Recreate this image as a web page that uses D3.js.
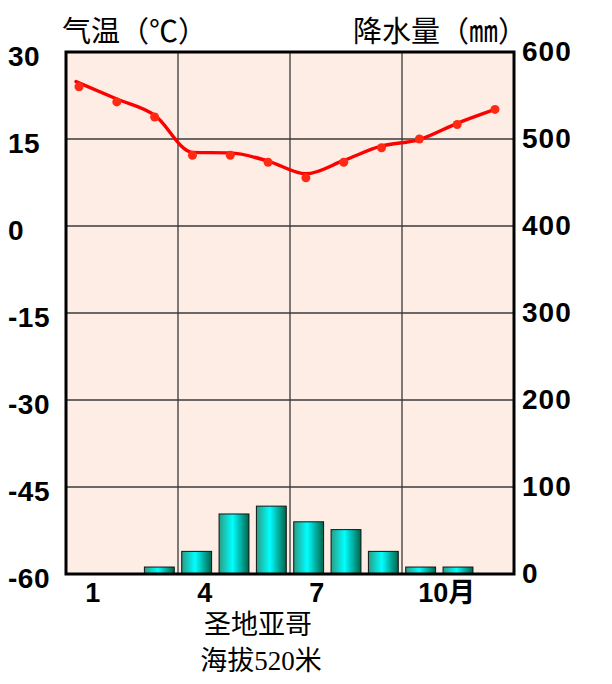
<!DOCTYPE html>
<html>
<head>
<meta charset="utf-8">
<script src="https://cdn.jsdelivr.net/npm/d3@7"></script>
<style>
  html, body { margin: 0; padding: 0; background: #ffffff; }
  svg { display: block; }
</style>
</head>
<body>
<svg id="chart" width="612" height="684"></svg>
<script>
// ---- data ----
const months = [1, 2, 3, 4, 5, 6, 7, 8, 9, 10, 11, 12];
const precip = [0, 0, 8, 26, 69, 78, 60, 51, 26, 8, 8, 0];          // mm
const tempPoints = [24.0, 21.4, 18.8, 12.2, 12.2, 11.0, 8.3, 11.0, 13.5, 15.0, 17.5, 20.1]; // °C dots
const tempCurve = [24.9, 21.9, 19.1, 12.7, 12.6, 11.2, 9.0, 11.3, 13.8, 14.9, 17.7, 20.1];  // drawn smooth line
const tempTicks = [30, 15, 0, -15, -30, -45, -60];
const precipTicks = [600, 500, 400, 300, 200, 100, 0];
const monthLabels = [[1, "1"], [4, "4"], [7, "7"], [10, "10月"]];
const titleLeft = "气温（℃）";
const titleRight = "降水量（㎜）";
const station = "圣地亚哥";
const altitude = "海拔520米";

// ---- layout ----
const x0 = 66, x1 = 514, y0 = 52, y1 = 574;
const svg = d3.select("#chart");

const x = d3.scaleBand().domain(months).range([x0, x1]).paddingInner(0.2).paddingOuter(0.1);
const xPt = d3.scalePoint().domain(months).range([x0 + 13, x1 - 19]);
const yT = d3.scaleLinear().domain([-60, 30]).range([y1, y0]);
const yP = d3.scaleLinear().domain([0, 600]).range([y1, y0]);

// gradient for bars
const defs = svg.append("defs");
const grad = defs.append("linearGradient").attr("id", "barGrad")
  .attr("x1", "0").attr("x2", "1").attr("y1", "0").attr("y2", "0");
grad.append("stop").attr("offset", "0").attr("stop-color", "#2a9c84");
grad.append("stop").attr("offset", "0.45").attr("stop-color", "#00ffff");
grad.append("stop").attr("offset", "1").attr("stop-color", "#00644a");

// plot background
svg.append("rect").attr("x", x0).attr("y", y0).attr("width", x1 - x0).attr("height", y1 - y0)
  .attr("fill", "#fdede4");

// horizontal gridlines
svg.append("g").selectAll("line").data(tempTicks.filter(t => t > -60 && t < 30)).join("line")
  .attr("x1", x0).attr("x2", x1)
  .attr("y1", d => yT(d)).attr("y2", d => yT(d))
  .attr("stroke", "#3a3a3a").attr("stroke-width", 1.3);

// vertical gridlines at every 3 months
const step = x.step();
svg.append("g").selectAll("line").data([3, 6, 9]).join("line")
  .attr("x1", d => x0 + d * step).attr("x2", d => x0 + d * step)
  .attr("y1", y0).attr("y2", y1)
  .attr("stroke", "#3a3a3a").attr("stroke-width", 1.3);

// bars
svg.append("g").selectAll("rect").data(months.map((m, i) => ({ m, v: precip[i] })).filter(d => d.v > 0)).join("rect")
  .attr("x", d => x(d.m)).attr("width", x.bandwidth())
  .attr("y", d => yP(d.v)).attr("height", d => yP(0) - yP(d.v))
  .attr("fill", "url(#barGrad)")
  .attr("stroke", "#111").attr("stroke-width", 1);

// temperature curve
const line = d3.line().x((d, i) => xPt(months[i]) - (i === 0 ? 3 : 0)).y(d => yT(d)).curve(d3.curveMonotoneX);
svg.append("path").datum(tempCurve).attr("d", line)
  .attr("fill", "none").attr("stroke", "#ff0000").attr("stroke-width", 3.4)
  .attr("stroke-linejoin", "round").attr("stroke-linecap", "round");

// temperature dots
svg.append("g").selectAll("circle").data(tempPoints).join("circle")
  .attr("cx", (d, i) => xPt(months[i])).attr("cy", d => yT(d)).attr("r", 4.5)
  .attr("fill", "#ff2a14");

// frame
svg.append("rect").attr("x", x0).attr("y", y0).attr("width", x1 - x0).attr("height", y1 - y0)
  .attr("fill", "none").attr("stroke", "#000").attr("stroke-width", 3);

// axis labels
const numFont = "'Liberation Sans', Arial, sans-serif";
svg.append("g").selectAll("text").data(tempTicks).join("text")
  .attr("x", 8).attr("y", d => yT(d) + 14)
  .attr("font-family", numFont).attr("font-weight", "bold").attr("font-size", 28)
  .attr("letter-spacing", 0.5)
  .attr("fill", "#000").text(d => d);

svg.append("g").selectAll("text").data(precipTicks).join("text")
  .attr("x", 522).attr("y", d => yP(d) + 9)
  .attr("font-family", numFont).attr("font-weight", "bold").attr("font-size", 28)
  .attr("letter-spacing", 1)
  .attr("fill", "#000").text(d => d);

svg.append("g").selectAll("text").data(monthLabels).join("text")
  .attr("x", d => x(d[0]) + x.bandwidth() / 2 + 8 + (d[1].length > 2 ? 18 : 0))
  .attr("y", 602)
  .attr("text-anchor", "middle")
  .attr("font-family", numFont + ", 'Noto Sans CJK SC'").attr("font-weight", "bold").attr("font-size", 27)
  .attr("fill", "#000").text(d => d[1]);

// titles
const cjkFont = "'Noto Sans CJK SC', sans-serif";
svg.append("text").attr("x", 62).attr("y", 42)
  .attr("font-family", cjkFont).attr("font-size", 29).attr("fill", "#000").text(titleLeft);
svg.append("text").attr("x", 353).attr("y", 42)
  .attr("font-family", cjkFont).attr("font-size", 29).attr("fill", "#000").text(titleRight);

// station name
const serifFont = "'Liberation Serif', 'Noto Sans CJK SC', serif";
svg.append("text").attr("x", 258).attr("y", 634).attr("text-anchor", "middle")
  .attr("font-family", serifFont).attr("font-size", 27).attr("fill", "#000").text(station);
svg.append("text").attr("x", 261).attr("y", 670).attr("text-anchor", "middle")
  .attr("font-family", serifFont).attr("font-size", 27).attr("fill", "#000").text(altitude);
</script>
</body>
</html>
